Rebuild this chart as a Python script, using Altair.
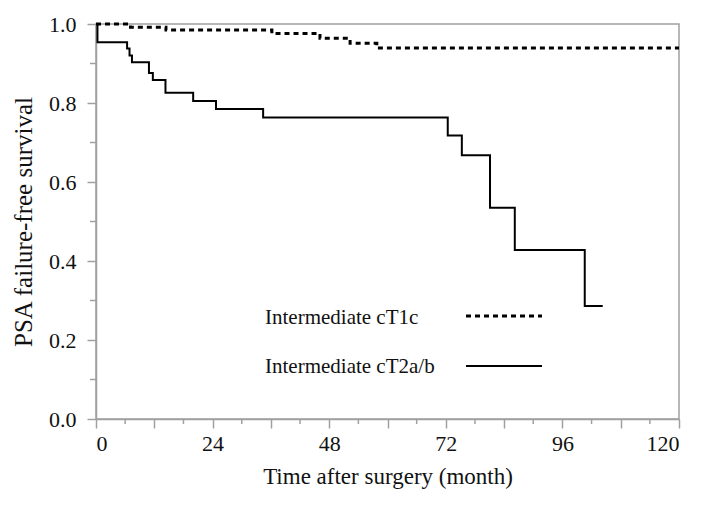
import altair as alt
import pandas as pd

# cT2a/b (solid) Kaplan-Meier steps
t2_time = [0, 0.3, 6.4, 6.9, 7.4, 10.9, 11.7, 14.3, 20.0, 24.7, 34.4, 72.4, 75.3, 81.1, 86.2, 100.6, 104.3]
t2_surv = [1.0, 0.954, 0.938, 0.92, 0.903, 0.876, 0.858, 0.826, 0.805, 0.785, 0.763, 0.718, 0.668, 0.535, 0.428, 0.286, 0.286]

# cT1c (dashed) Kaplan-Meier steps
t1_time = [0, 7.1, 14.4, 36.2, 46.1, 52.3, 57.8, 120]
t1_surv = [1.0, 0.992, 0.985, 0.976, 0.964, 0.951, 0.939, 0.939]

groups = ["Intermediate cT1c", "Intermediate cT2a/b"]
x_major = list(range(0, 121, 12))
x_minor = list(range(6, 121, 12))
y_major = [0.0, 0.2, 0.4, 0.6, 0.8, 1.0]
y_minor = [0.1, 0.3, 0.5, 0.7, 0.9]

rows = []
for t, s in zip(t1_time, t1_surv):
    rows.append({"time": t, "surv": s, "group": groups[0]})
for t, s in zip(t2_time, t2_surv):
    rows.append({"time": t, "surv": s, "group": groups[1]})
df = pd.DataFrame(rows)

FONT = "Liberation Serif"
AX = "#a0a0a0"
W, H = 583, 395

xs = alt.Scale(domain=[0, 120], nice=False)
ys = alt.Scale(domain=[0, 1], nice=False)

x_axis = alt.Axis(
    values=x_major,
    labelExpr="datum.value % 24 === 0 ? datum.label : ''",
    tickSize=9,
    title="Time after surgery (month)",
    grid=False,
    labelFontSize=22, titleFontSize=23, labelPadding=5, titlePadding=11,
)
y_axis = alt.Axis(
    values=y_major,
    format=".1f",
    tickSize=9,
    title="PSA failure-free survival",
    grid=False,
    labelFontSize=22, titleFontSize=25, labelPadding=11, titlePadding=12,
)

curves = alt.Chart(df).mark_line(interpolate="step-after", color="black").encode(
    x=alt.X("time:Q", scale=xs, axis=x_axis),
    y=alt.Y("surv:Q", scale=ys, axis=y_axis),
    detail="group:N",
    strokeDash=alt.StrokeDash("group:N", scale=alt.Scale(domain=groups, range=[[5, 4], [1, 0]]), legend=None),
    strokeWidth=alt.StrokeWidth("group:N", scale=alt.Scale(domain=groups, range=[3, 2]), legend=None),
)

xm = alt.Chart(pd.DataFrame({"time": x_minor})).mark_rule(color=AX, strokeWidth=1.5).encode(
    x=alt.X("time:Q", scale=xs, axis=x_axis),
    y=alt.value(H),
    y2=alt.value(H + 5),
)
ym = alt.Chart(pd.DataFrame({"surv": y_minor})).mark_rule(color=AX, strokeWidth=1.5).encode(
    y=alt.Y("surv:Q", scale=ys, axis=y_axis),
    x=alt.value(0),
    x2=alt.value(-6),
)

leg = pd.DataFrame({"group": groups, "ty": [294, 343], "ly": [292, 342]})
leg_text = alt.Chart(leg).mark_text(align="left", baseline="middle", font=FONT, fontSize=21, color="#111").encode(
    text="group:N",
    x=alt.value(169),
    y=alt.Y("ty:Q", scale=None),
)
leg_line = alt.Chart(leg).mark_rule(color="black").encode(
    x=alt.value(370),
    x2=alt.value(446),
    y=alt.Y("ly:Q", scale=None),
    strokeDash=alt.StrokeDash("group:N", scale=alt.Scale(domain=groups, range=[[8, 9], [1, 0]]), legend=None),
    strokeWidth=alt.StrokeWidth("group:N", scale=alt.Scale(domain=groups, range=[2.8, 2.8]), legend=None),
)

chart = alt.layer(curves, xm, ym, leg_line, leg_text).properties(
    width=W, height=H,
    autosize=alt.AutoSizeParams(type="none"),
    padding={"left": 88, "top": 16, "right": 21, "bottom": 75},
).configure(
    font=FONT,
).configure_view(
    stroke=AX, strokeWidth=1.5,
).configure_axis(
    domainColor=AX, domainWidth=1.5, tickColor=AX, tickWidth=1.5,
    labelColor="#111", titleColor="#111", labelFont=FONT, titleFont=FONT,
    titleFontWeight="normal",
)

chart.save("out.html", embed_options={"renderer": "svg", "actions": False})
